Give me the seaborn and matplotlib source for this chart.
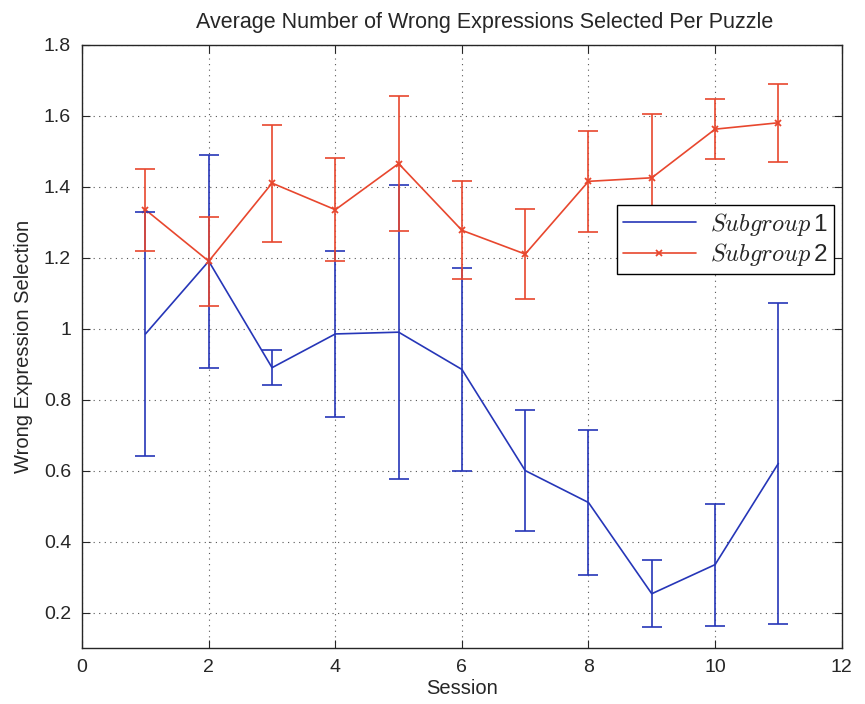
import numpy as np
import pandas as pd
import matplotlib
matplotlib.use('Agg')
import matplotlib.pyplot as plt
import seaborn as sns
from matplotlib.ticker import FormatStrFormatter

# values
sessions = [1, 2, 3, 4, 5, 6, 7, 8, 9, 10, 11]
sub1_mean = [0.985, 1.19, 0.89, 0.985, 0.99, 0.885, 0.60, 0.51, 0.253, 0.335, 0.62]
sub1_err = [0.345, 0.30, 0.05, 0.235, 0.415, 0.285, 0.17, 0.205, 0.095, 0.172, 0.452]
sub2_mean = [1.335, 1.19, 1.41, 1.335, 1.465, 1.277, 1.21, 1.415, 1.425, 1.562, 1.58]
sub2_err = [0.115, 0.125, 0.165, 0.145, 0.19, 0.138, 0.127, 0.143, 0.18, 0.084, 0.11]

BLUE = '#2636b8'
RED = '#e8472e'

sns.set_style('ticks')
plt.rcParams['font.family'] = ['Liberation Sans', 'DejaVu Sans']
plt.rcParams['mathtext.fontset'] = 'cm'

df1 = pd.DataFrame({'session': sessions, 'value': sub1_mean})
df2 = pd.DataFrame({'session': sessions, 'value': sub2_mean})

fig = plt.figure(figsize=(8.65, 7.04), dpi=100)
ax = fig.add_axes([0.095, 0.0795, 0.878, 0.857])

sns.lineplot(data=df1, x='session', y='value', ax=ax, color=BLUE, lw=1.2,
             label=r'$Subgroup\,$1')
sns.lineplot(data=df2, x='session', y='value', ax=ax, color=RED, lw=1.2,
             marker='x', markersize=5, markeredgewidth=1.3, markeredgecolor=RED,
             label=r'$Subgroup\,$2')
ax.errorbar(sessions, sub1_mean, yerr=sub1_err, fmt='none', ecolor=BLUE,
            elinewidth=1.2, capsize=7, capthick=1.2)
ax.errorbar(sessions, sub2_mean, yerr=sub2_err, fmt='none', ecolor=RED,
            elinewidth=1.2, capsize=7, capthick=1.2)

ax.set_xlim(0, 12)
ax.set_ylim(0.1, 1.8)
ax.set_xticks(np.arange(0, 13, 2))
ax.set_yticks(np.arange(0.2, 1.81, 0.2))
ax.yaxis.set_major_formatter(FormatStrFormatter('%g'))
ax.grid(True, linestyle=(0, (1, 4)), color='#555555', lw=0.8)
ax.tick_params(direction='in', top=True, right=True, labelsize=14, length=6, pad=8)
for s in ax.spines.values():
    s.set_visible(True)
    s.set_linewidth(1.0)

ax.set_xlabel('Session', fontsize=14.5, labelpad=2)
ax.set_ylabel('Wrong Expression Selection', fontsize=14.5, labelpad=8)
ax.set_title('Average Number of Wrong Expressions Selected Per Puzzle', fontsize=15.5,
             pad=12, x=0.53)

leg = ax.legend(loc='upper right', bbox_to_anchor=(0.99, 0.735), borderaxespad=0,
                fontsize=17.5, frameon=True, fancybox=False, edgecolor='black',
                framealpha=1, handlelength=3.0, borderpad=0.25, labelspacing=0.15,
                handletextpad=0.6)
leg.get_frame().set_linewidth(1.0)
leg.set_zorder(10)

fig.savefig('out.png', dpi=100)
